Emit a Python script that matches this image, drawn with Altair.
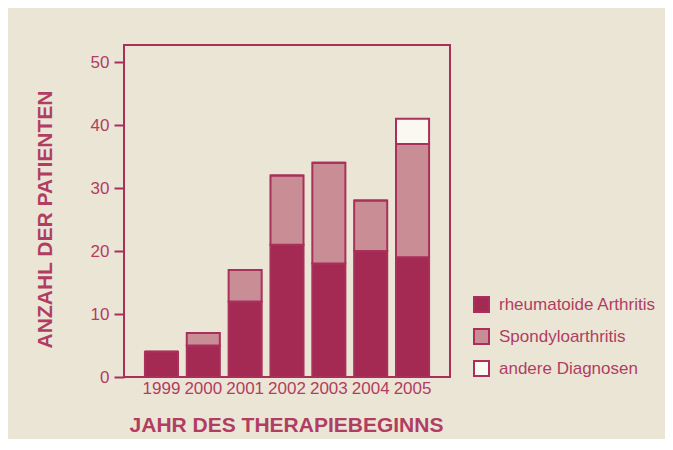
import altair as alt
import pandas as pd

years = ["1999", "2000", "2001", "2002", "2003", "2004", "2005"]
ra = [4, 5, 12, 21, 18, 20, 19]
spondy = [0, 2, 5, 11, 16, 8, 18]
andere = [0, 0, 0, 0, 0, 0, 4]
categories = ["rheumatoide Arthritis", "Spondyloarthritis", "andere Diagnosen"]
colors = ["#a42953", "#c98d95", "#fbf8f2"]
y_ticks = [0, 10, 20, 30, 40, 50]

rows = []
for i, y in enumerate(years):
    for k, (cat, vals) in enumerate(zip(categories, [ra, spondy, andere])):
        rows.append({"Jahr": y, "Diagnose": cat, "Anzahl": vals[i], "ord": k})
df = pd.DataFrame(rows)

TXT = "#b13d62"
DARK = "#a8305a"
FONT = "Liberation Sans"

chart = alt.Chart(df).mark_bar(stroke=DARK, strokeWidth=2).encode(
    x=alt.X("Jahr:N", sort=years,
            scale=alt.Scale(paddingInner=0.21, paddingOuter=0.5),
            axis=alt.Axis(title="JAHR DES THERAPIEBEGINNS", labelAngle=0, ticks=False,
                          domain=False, labelPadding=3, labelFontSize=17,
                          labelColor=TXT, labelFont=FONT,
                          titleFontSize=21, titleFontWeight="bold", titleColor=TXT,
                          titleFont=FONT, titleX=162, titleY=48,
                          titleBaseline="middle", titleAlign="center")),
    y=alt.Y("Anzahl:Q", stack="zero",
            scale=alt.Scale(domain=[0, 52.7], nice=False),
            axis=alt.Axis(title="ANZAHL DER PATIENTEN", values=y_ticks, grid=False,
                          domain=False, tickSize=10, tickWidth=2, tickColor=DARK,
                          labelPadding=5, labelFontSize=17, labelColor=TXT, labelFont=FONT,
                          titleFontSize=21, titleFontWeight="bold", titleColor=TXT,
                          titleFont=FONT, titleAngle=-90, titleX=-79, titleY=174,
                          titleBaseline="middle", titleAlign="center")),
    color=alt.Color("Diagnose:N", sort=categories,
                    scale=alt.Scale(domain=categories, range=colors),
                    legend=alt.Legend(title=None, orient="none", legendX=349, legendY=251,
                                      symbolType="square", symbolSize=225,
                                      symbolStrokeColor=DARK, symbolStrokeWidth=2,
                                      labelFontSize=17, labelColor=TXT, labelFont=FONT,
                                      labelOffset=9, rowPadding=9)),
    order=alt.Order("ord:Q"),
).properties(
    width=326, height=332,
    autosize=alt.AutoSizeParams(type="none"),
    padding={"left": 116, "top": 37, "right": 215, "bottom": 62},
    background="#ebe5d6",
).configure_view(stroke=DARK, strokeWidth=2)

chart.save("out.html", embed_options={"renderer": "svg", "actions": False})
